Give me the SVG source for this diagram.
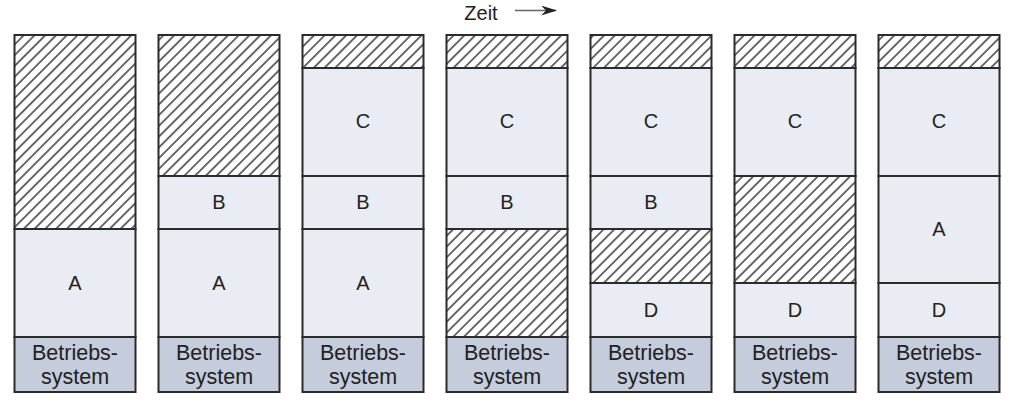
<svg xmlns="http://www.w3.org/2000/svg" width="1014" height="409" viewBox="0 0 1014 409">
<style>
.b{stroke:#2b2b2b;stroke-width:2}
.p{fill:#e9ecf2}
.h{fill:url(#hatch)}
.os{fill:#c5ccdb}
.t{font-family:"Liberation Sans",Arial,sans-serif;font-size:20px;fill:#222;text-anchor:middle}
.ost{font-family:"Liberation Sans",Arial,sans-serif;font-size:21.5px;fill:#222;text-anchor:middle}
</style>
<defs>
<pattern id="hatch" patternUnits="userSpaceOnUse" width="7.6" height="7.6" patternTransform="rotate(-45)">
<rect width="7.6" height="7.6" fill="#fff"/>
<line x1="0" y1="3.8" x2="7.6" y2="3.8" stroke="#2b2b2b" stroke-width="1.4"/>
</pattern>
<marker id="ah" markerWidth="16" markerHeight="10" refX="15" refY="5" orient="auto" markerUnits="userSpaceOnUse">
<path d="M0,0 L16,5 L0,10 L5,5 Z" fill="#222"/>
</marker>
</defs>
<text x="481" y="20" style="font-family:'Liberation Sans',Arial,sans-serif;font-size:20px;fill:#222" text-anchor="middle">Zeit</text>
<g id="connectors">
<line x1="515" y1="10.5" x2="556" y2="10.5" stroke="#666" stroke-width="1.5" marker-end="url(#ah)"/>
</g>
<g id="col1">
<rect class="b h" x="14.5" y="35" width="121" height="194"/>
<rect class="b p" x="14.5" y="229" width="121" height="108"/><text class="t" x="75" y="290">A</text>
<rect class="b os" x="14.5" y="337" width="121" height="55"/><text class="ost" x="75" y="360">Betriebs-</text><text class="ost" x="75" y="384">system</text>
</g>
<g id="col2">
<rect class="b h" x="158.5" y="35" width="121" height="141"/>
<rect class="b p" x="158.5" y="176" width="121" height="53"/><text class="t" x="219" y="209">B</text>
<rect class="b p" x="158.5" y="229" width="121" height="108"/><text class="t" x="219" y="290">A</text>
<rect class="b os" x="158.5" y="337" width="121" height="55"/><text class="ost" x="219" y="360">Betriebs-</text><text class="ost" x="219" y="384">system</text>
</g>
<g id="col3">
<rect class="b h" x="302.5" y="35" width="121" height="33"/>
<rect class="b p" x="302.5" y="68" width="121" height="108"/><text class="t" x="363" y="128">C</text>
<rect class="b p" x="302.5" y="176" width="121" height="53"/><text class="t" x="363" y="209">B</text>
<rect class="b p" x="302.5" y="229" width="121" height="108"/><text class="t" x="363" y="290">A</text>
<rect class="b os" x="302.5" y="337" width="121" height="55"/><text class="ost" x="363" y="360">Betriebs-</text><text class="ost" x="363" y="384">system</text>
</g>
<g id="col4">
<rect class="b h" x="446.5" y="35" width="121" height="33"/>
<rect class="b p" x="446.5" y="68" width="121" height="108"/><text class="t" x="507" y="128">C</text>
<rect class="b p" x="446.5" y="176" width="121" height="53"/><text class="t" x="507" y="209">B</text>
<rect class="b h" x="446.5" y="229" width="121" height="108"/>
<rect class="b os" x="446.5" y="337" width="121" height="55"/><text class="ost" x="507" y="360">Betriebs-</text><text class="ost" x="507" y="384">system</text>
</g>
<g id="col5">
<rect class="b h" x="590.5" y="35" width="121" height="33"/>
<rect class="b p" x="590.5" y="68" width="121" height="108"/><text class="t" x="651" y="128">C</text>
<rect class="b p" x="590.5" y="176" width="121" height="53"/><text class="t" x="651" y="209">B</text>
<rect class="b h" x="590.5" y="229" width="121" height="54"/>
<rect class="b p" x="590.5" y="283" width="121" height="54"/><text class="t" x="651" y="317">D</text>
<rect class="b os" x="590.5" y="337" width="121" height="55"/><text class="ost" x="651" y="360">Betriebs-</text><text class="ost" x="651" y="384">system</text>
</g>
<g id="col6">
<rect class="b h" x="734.5" y="35" width="121" height="33"/>
<rect class="b p" x="734.5" y="68" width="121" height="108"/><text class="t" x="795" y="128">C</text>
<rect class="b h" x="734.5" y="176" width="121" height="107"/>
<rect class="b p" x="734.5" y="283" width="121" height="54"/><text class="t" x="795" y="317">D</text>
<rect class="b os" x="734.5" y="337" width="121" height="55"/><text class="ost" x="795" y="360">Betriebs-</text><text class="ost" x="795" y="384">system</text>
</g>
<g id="col7">
<rect class="b h" x="878.5" y="35" width="121" height="33"/>
<rect class="b p" x="878.5" y="68" width="121" height="108"/><text class="t" x="939" y="128">C</text>
<rect class="b p" x="878.5" y="176" width="121" height="107"/><text class="t" x="939" y="236">A</text>
<rect class="b p" x="878.5" y="283" width="121" height="54"/><text class="t" x="939" y="317">D</text>
<rect class="b os" x="878.5" y="337" width="121" height="55"/><text class="ost" x="939" y="360">Betriebs-</text><text class="ost" x="939" y="384">system</text>
</g>
</svg>
